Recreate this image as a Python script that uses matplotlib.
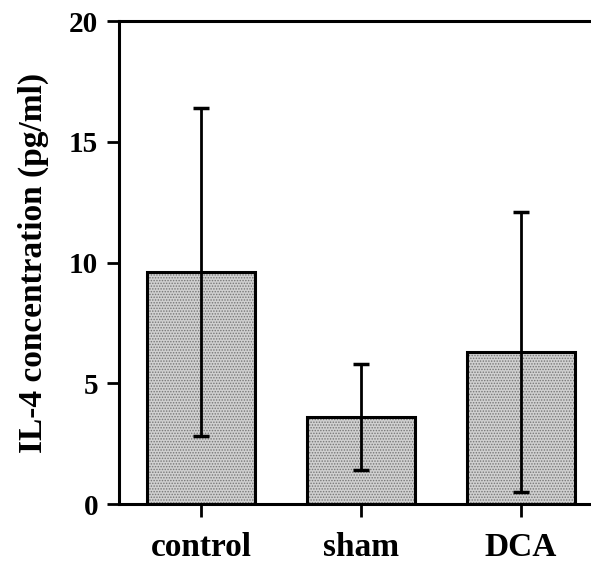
import matplotlib
matplotlib.use("Agg")
import matplotlib.pyplot as plt

groups = ["control", "sham", "DCA"]
means = [9.6, 3.6, 6.3]
errors = [6.8, 2.2, 5.8]
y_ticks = [0, 5, 10, 15, 20]

plt.rcParams["font.family"] = ["Liberation Serif", "DejaVu Serif"]
plt.rcParams["font.weight"] = "bold"
plt.rcParams["hatch.linewidth"] = 0.7

fig = plt.figure(figsize=(5.91, 5.62), dpi=100)
ax = fig.add_axes([0.2014, 0.1032, 0.7986, 0.8594])

x = list(range(len(groups)))
width = 0.67

# stippled fill
ax.bar(x, means, width=width, color="#d0d0d0", edgecolor="#767676",
       hatch="......", linewidth=0, zorder=1)
# outlines
ax.bar(x, means, width=width, fill=False, edgecolor="black",
       linewidth=2.2, zorder=2)
ax.errorbar(x, means, yerr=errors, fmt="none", ecolor="black",
            elinewidth=2, capsize=6, capthick=2.5, zorder=3)

ax.set_xlim(-0.5125, 2.4375)
ax.set_ylim(0, 20)
ax.set_yticks(y_ticks)
ax.set_xticks(x)
ax.set_xticklabels(groups, fontsize=24, fontweight="bold")
ax.tick_params(axis="y", labelsize=21, length=9, width=2, direction="out", pad=6)
ax.tick_params(axis="x", length=9, width=2, direction="out", pad=11)
for lab in ax.get_yticklabels():
    lab.set_fontweight("bold")

ax.set_ylabel("IL-4 concentration (pg/ml)", fontsize=24, fontweight="bold", labelpad=14)

ax.spines["right"].set_visible(False)
for side in ("left", "top", "bottom"):
    ax.spines[side].set_linewidth(2.2)

fig.savefig("out.png", dpi=100)
